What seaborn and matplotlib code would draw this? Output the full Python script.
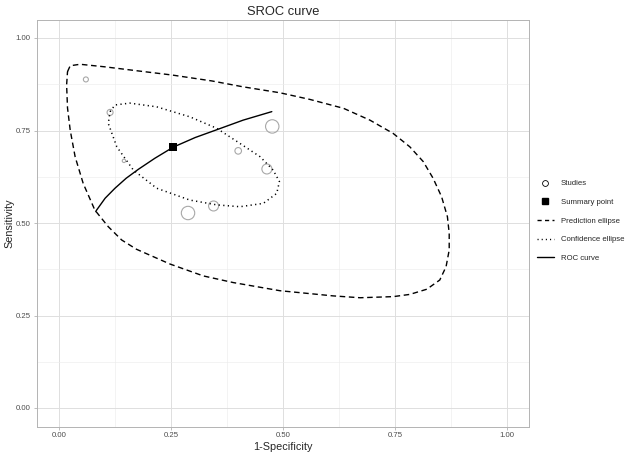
import numpy as np
import matplotlib
matplotlib.use("Agg")
import matplotlib.pyplot as plt
import seaborn as sns
from matplotlib.lines import Line2D

# studies (1-specificity, sensitivity, weight)
study_fpr = [0.060, 0.114, 0.145, 0.400, 0.476, 0.464, 0.345, 0.288]
study_sens = [0.888, 0.799, 0.668, 0.695, 0.761, 0.646, 0.546, 0.527]
study_weight = [6.3, 9.0, 2.9, 10.9, 45.0, 25.0, 25.0, 45.0]

summary_fpr = [0.255]
summary_sens = [0.705]

roc_fpr = [0.082, 0.084, 0.103, 0.125, 0.150, 0.177, 0.214, 0.255, 0.304, 0.352, 0.411, 0.475]
roc_sens = [0.531, 0.535, 0.567, 0.594, 0.621, 0.645, 0.675, 0.705, 0.731, 0.752, 0.778, 0.801]

pred_fpr = [0.019, 0.025, 0.047, 0.103, 0.177, 0.252, 0.341, 0.411, 0.493, 0.560,
            0.635, 0.694, 0.746, 0.783, 0.813, 0.835, 0.854, 0.867, 0.871, 0.871,
            0.864, 0.850, 0.821, 0.783, 0.746, 0.672, 0.612, 0.493, 0.389, 0.322,
            0.248, 0.173, 0.140, 0.110, 0.080, 0.054, 0.036, 0.025, 0.019, 0.017, 0.019]
pred_sens = [0.909, 0.925, 0.929, 0.922, 0.911, 0.900, 0.884, 0.868, 0.852, 0.834,
             0.810, 0.778, 0.742, 0.706, 0.666, 0.621, 0.571, 0.517, 0.472, 0.427,
             0.382, 0.346, 0.321, 0.307, 0.301, 0.298, 0.303, 0.317, 0.339, 0.357,
             0.389, 0.429, 0.454, 0.490, 0.535, 0.607, 0.679, 0.751, 0.811, 0.873, 0.909]

conf_fpr = [0.114, 0.125, 0.158, 0.218, 0.292, 0.352, 0.404, 0.449, 0.478, 0.492,
            0.486, 0.456, 0.404, 0.352, 0.292, 0.218, 0.166, 0.129, 0.110, 0.114]
conf_sens = [0.801, 0.819, 0.824, 0.814, 0.787, 0.756, 0.715, 0.679, 0.643, 0.612,
             0.580, 0.553, 0.544, 0.549, 0.562, 0.594, 0.643, 0.706, 0.769, 0.801]

ticks = [0.00, 0.25, 0.50, 0.75, 1.00]
tick_labels = ["0.00", "0.25", "0.50", "0.75", "1.00"]
legend_labels = ["Studies", "Summary point", "Prediction ellipse",
                 "Confidence ellipse", "ROC curve"]


def main():
    sns.set_theme(style="white")
    plt.rcParams["font.family"] = ["Liberation Sans", "DejaVu Sans"]

    fig = plt.figure(figsize=(6.3, 4.53), dpi=100)
    ax = fig.add_axes([36.6 / 630, 1 - 426.5 / 453, 492.8 / 630, 407 / 453])

    sns.lineplot(x=pred_fpr, y=pred_sens, sort=False, estimator=None, ax=ax,
                 color="black", linewidth=1.0, linestyle=(0, (4, 2.6)))
    sns.lineplot(x=conf_fpr, y=conf_sens, sort=False, estimator=None, ax=ax,
                 color="black", linewidth=1.1, linestyle=(0, (0.8, 2.2)))
    sns.lineplot(x=roc_fpr, y=roc_sens, sort=False, estimator=None, ax=ax,
                 color="black", linewidth=1.0)
    sns.scatterplot(x=study_fpr, y=study_sens, size=study_weight, sizes=(6, 93),
                    ax=ax, facecolor="none", edgecolor="#a8a8a8", linewidth=0.8,
                    legend=False)
    sns.scatterplot(x=summary_fpr, y=summary_sens, ax=ax, marker="s", s=26,
                    color="black", linewidth=0)

    ax.set_xlim(-0.05, 1.05)
    ax.set_ylim(-0.05, 1.05)
    ax.set_xticks(ticks)
    ax.set_xticklabels(tick_labels)
    ax.set_yticks(ticks)
    ax.set_yticklabels(tick_labels)
    ax.set_xticks(np.arange(0.125, 1.0, 0.25), minor=True)
    ax.set_yticks(np.arange(0.125, 1.0, 0.25), minor=True)
    ax.grid(True, which="major", color="#dedede", linewidth=0.7)
    ax.grid(True, which="minor", color="#ececec", linewidth=0.45)
    ax.set_axisbelow(True)
    for s in ax.spines.values():
        s.set_color("#b3b3b3")
        s.set_linewidth(0.7)
    ax.tick_params(which="major", length=2.2, width=0.6, color="#b3b3b3",
                   labelsize=5.6, labelcolor="#4d4d4d", pad=2, left=True, bottom=True)
    ax.tick_params(which="minor", length=0)

    ax.set_xlabel("1-Specificity", fontsize=7.8, labelpad=2)
    ax.set_ylabel("Sensitivity", fontsize=7.8, labelpad=1)
    ax.set_title("SROC curve", fontsize=9.3, pad=3.5)

    handles = [
        Line2D([], [], marker="o", linestyle="none", markerfacecolor="none",
               markeredgecolor="black", markersize=4.2, markeredgewidth=0.6),
        Line2D([], [], marker="s", linestyle="none", color="black", markersize=4.2),
        Line2D([], [], color="black", linewidth=1.0, linestyle=(0, (3, 2.4))),
        Line2D([], [], color="black", linewidth=1.0, linestyle=(0, (0.8, 2.2))),
        Line2D([], [], color="black", linewidth=1.0),
    ]
    fig.legend(handles, legend_labels, loc="center left",
               bbox_to_anchor=(533 / 630, 1 - 221 / 453), frameon=False,
               fontsize=5.6, handlelength=2.2, handletextpad=0.9,
               labelspacing=1.45, borderpad=0)

    fig.savefig("out.png", dpi=100)


if __name__ == "__main__":
    main()
